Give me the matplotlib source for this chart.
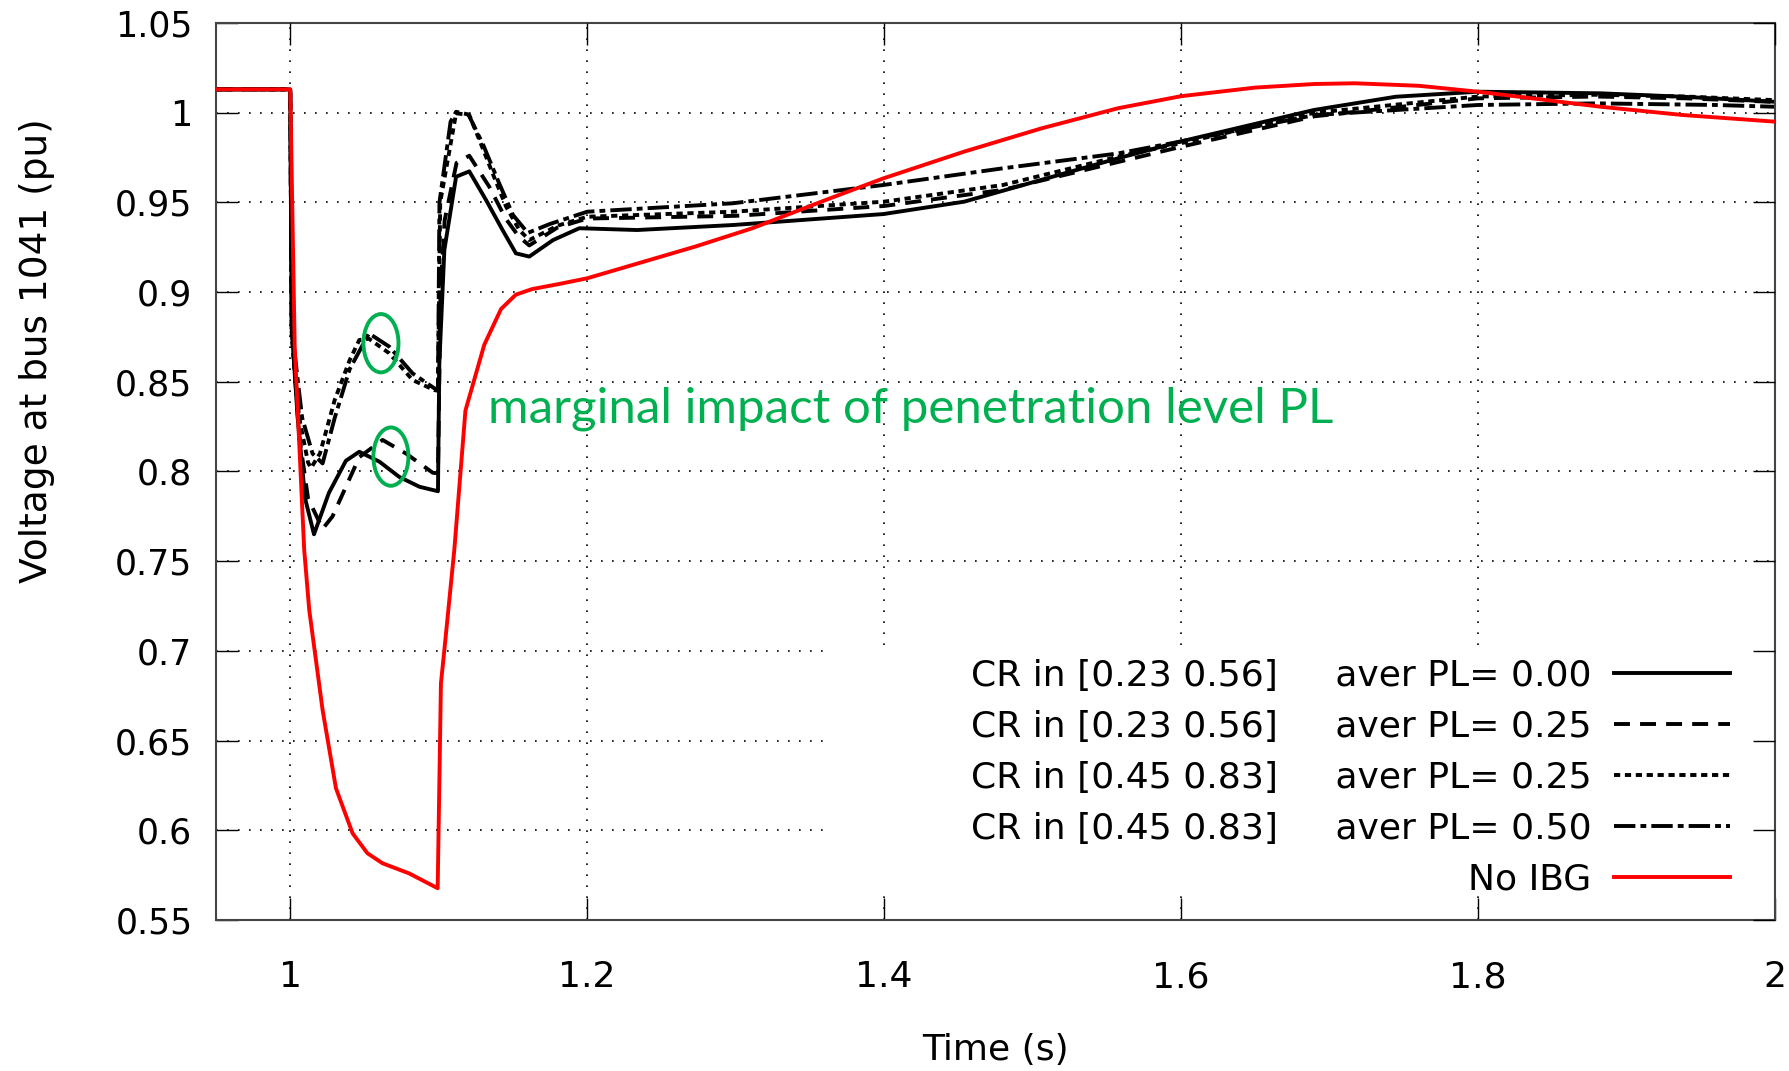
import numpy as np
import matplotlib.pyplot as plt
from matplotlib.patches import Ellipse, Rectangle

# Voltage at bus 1041 (pu) against time (s).
# CR in [0.23 0.56], aver PL = 0.00 (solid)
t_a = [0.95, 1.0, 1.001, 1.005, 1.01, 1.016, 1.026, 1.0375, 1.0465, 1.06, 1.0734, 1.087,
       1.0995, 1.1004, 1.1038, 1.1117, 1.1206, 1.1319, 1.143, 1.152, 1.161, 1.177, 1.1947,
       1.2336, 1.2984, 1.3995, 1.4539, 1.5057, 1.5576, 1.599, 1.6894, 1.7446, 1.8, 1.8827,
       1.9379, 2.0]
v_a = [1.013, 1.013, 0.88, 0.83, 0.785, 0.765, 0.788, 0.806, 0.811, 0.8055, 0.797, 0.7915,
       0.789, 0.86, 0.9235, 0.9643, 0.9673, 0.9513, 0.9346, 0.9216, 0.9198, 0.929, 0.9356,
       0.9346, 0.9374, 0.9435, 0.9504, 0.9625, 0.9746, 0.9838, 1.0015, 1.0089, 1.0117, 1.0108,
       1.0089, 1.0061]

# CR in [0.23 0.56], aver PL = 0.25 (dashed)
t_b = [0.95, 1.0, 1.001, 1.006, 1.012, 1.0218, 1.0285, 1.0375, 1.0465, 1.0622, 1.078, 1.096,
       1.0995, 1.1012, 1.104, 1.112, 1.1206, 1.134, 1.145, 1.154, 1.161, 1.18, 1.2, 1.3, 1.4,
       1.48, 1.56, 1.6, 1.69, 1.8, 1.88, 1.94, 2.0]
v_b = [1.013, 1.013, 0.88, 0.82, 0.785, 0.768, 0.775, 0.7915, 0.808, 0.8176, 0.810, 0.7993,
       0.799, 0.90, 0.94, 0.972, 0.976, 0.9588, 0.9411, 0.9309, 0.926, 0.936, 0.941, 0.9425,
       0.948, 0.957, 0.973, 0.981, 0.998, 1.008, 1.009, 1.008, 1.006]

# CR in [0.45 0.83], aver PL = 0.25 (dotted)
t_c = [0.95, 1.0, 1.001, 1.006, 1.012, 1.014, 1.02, 1.03, 1.04, 1.0465, 1.053, 1.0667, 1.0824,
       1.097, 1.0995, 1.101, 1.1117, 1.1206, 1.1274, 1.1363, 1.1454, 1.1543, 1.161, 1.18, 1.2,
       1.298, 1.4, 1.48, 1.5576, 1.6, 1.69, 1.8, 1.88, 1.94, 2.0]
v_c = [1.013, 1.013, 0.875, 0.83, 0.805, 0.802, 0.81, 0.84, 0.862, 0.8733, 0.874, 0.8659, 0.851,
       0.8454, 0.845, 0.95, 0.9997, 0.9987, 0.9848, 0.9662, 0.9476, 0.9346, 0.929, 0.937, 0.942,
       0.9448, 0.9504, 0.9597, 0.9755, 0.983, 1.0, 1.009, 1.01, 1.009, 1.007]

# CR in [0.45 0.83], aver PL = 0.50 (dash-dot)
t_d = [0.95, 1.0, 1.001, 1.008, 1.015, 1.0218, 1.03, 1.04, 1.053, 1.0667, 1.0824, 1.097, 1.0995,
       1.1005, 1.108, 1.1117, 1.12, 1.13, 1.14, 1.15, 1.16, 1.175, 1.2, 1.298, 1.3995, 1.48,
       1.5576, 1.6, 1.69, 1.8, 1.88, 1.96, 2.0]
v_d = [1.013, 1.013, 0.88, 0.83, 0.81, 0.8045, 0.83, 0.857, 0.877, 0.8696, 0.8547, 0.8464, 0.846,
       0.95, 0.995, 1.0005, 0.999, 0.982, 0.962, 0.943, 0.933, 0.938, 0.9448, 0.9495, 0.9597,
       0.969, 0.9773, 0.984, 0.9987, 1.0043, 1.0052, 1.0043, 1.0033]

# No IBG (red)
t_r = [0.95, 1.0, 1.003, 1.0094, 1.0128, 1.0218, 1.0308, 1.042, 1.052, 1.0622, 1.080, 1.0993,
       1.1015, 1.1038, 1.1105, 1.118, 1.1307, 1.142, 1.152, 1.163, 1.181, 1.2, 1.2725, 1.3113,
       1.3605, 1.3995, 1.4539, 1.5057, 1.5576, 1.6, 1.65, 1.69, 1.717, 1.76, 1.8, 1.8827, 1.938,
       2.0]
v_r = [1.013, 1.013, 0.87, 0.7563, 0.7228, 0.667, 0.6234, 0.5983, 0.5872, 0.5816, 0.576, 0.5677,
       0.682, 0.7005, 0.7563, 0.834, 0.8707, 0.8906, 0.8986, 0.9017, 0.9045, 0.9077, 0.9253,
       0.9356, 0.9513, 0.9634, 0.9783, 0.9912, 1.0025, 1.0092, 1.0140, 1.0160, 1.0164, 1.0150,
       1.0117, 1.0033, 0.9987, 0.995]

labels = ["CR in [0.23 0.56]     aver PL= 0.00",
          "CR in [0.23 0.56]     aver PL= 0.25",
          "CR in [0.45 0.83]     aver PL= 0.25",
          "CR in [0.45 0.83]     aver PL= 0.50",
          "No IBG"]

xticks = [1, 1.2, 1.4, 1.6, 1.8, 2]
xticklabels = ["1", "1.2", "1.4", "1.6", "1.8", "2"]
yticks = [0.55, 0.6, 0.65, 0.7, 0.75, 0.8, 0.85, 0.9, 0.95, 1.0, 1.05]
yticklabels = ["0.55", "0.6", "0.65", "0.7", "0.75", "0.8", "0.85", "0.9", "0.95", "1", "1.05"]

# circled spots (centre x, centre y)
marks = [(1.0611, 0.8715), (1.0678, 0.8083)]

green = "#00B050"
plt.rcParams['font.family'] = ['DejaVu Sans']

fig = plt.figure(figsize=(17.9, 10.71), dpi=100)
pos = [0.12067, 0.14099, 0.87095, 0.83754]
ax = fig.add_axes(pos)

lw = 2.8
ax.plot(t_a, v_a, color='black', lw=lw, ls='-', label=labels[0], zorder=2)
ax.plot(t_b, v_b, color='black', lw=lw, ls=(0, (4.1, 2.6)), label=labels[1], zorder=2)
ax.plot(t_c, v_c, color='black', lw=lw, ls=(0, (1.6, 1.2)), label=labels[2], zorder=2)
ax.plot(t_d, v_d, color='black', lw=lw, ls=(0, (5.5, 1.3, 1.5, 1.3)), label=labels[3], zorder=2)
ax.plot(t_r, v_r, color='red', lw=lw, ls='-', label=labels[4], zorder=3)

for cx, cy in marks:
    ax.add_patch(Ellipse((cx, cy), 0.0236, 0.0325, fill=False, edgecolor=green, lw=2.8, zorder=4))

ax.text(1.133, 0.835, "marginal impact of penetration level PL", color=green,
        fontsize=35.5, family=['Lato', 'DejaVu Sans'], va='center', ha='left')

# key area hides the grid like the original
ax.add_patch(Rectangle((1.362, 0.565), 0.64, 0.138, facecolor='white', edgecolor='none', zorder=1))

ax.set_xlim(0.95, 2.0)
ax.set_ylim(0.55, 1.05)
ax.set_xticks(xticks)
ax.set_xticklabels(xticklabels)
ax.set_yticks(yticks)
ax.set_yticklabels(yticklabels)
ax.set_axisbelow(True)
ax.grid(True, color='black', lw=1.2, ls=(0, (1, 5.6)))
ax.tick_params(axis='both', direction='in', length=15.6, width=1.0, colors='black')
ax.tick_params(axis='y', labelsize=25, pad=17)
ax.tick_params(axis='x', labelsize=26, pad=29)
for s in ax.spines.values():
    s.set_color('#444444')
    s.set_linewidth(1.5)

ax.set_xlabel("Time (s)", fontsize=26)
ax.set_ylabel("Voltage at bus 1041 (pu)", fontsize=27)
ax.xaxis.set_label_coords(0.5, -0.126)
ax.yaxis.set_label_coords(-0.103, 0.635)

# mirror ticks on top and right, drawn above the key area
ov = fig.add_axes(pos, frameon=False)
ov.set_xlim(0.95, 2.0)
ov.set_ylim(0.55, 1.05)
ov.set_xticks(xticks)
ov.set_yticks(yticks)
ov.tick_params(left=False, bottom=False, top=True, right=True, labelleft=False,
               labelbottom=False, direction='in', length=15.6, width=1.0)
ov.patch.set_visible(False)

ax.legend(loc='lower right', bbox_to_anchor=(0.9711, 0.026), frameon=False, fontsize=26,
          markerfirst=False, handlelength=3.2, handletextpad=0.64, labelspacing=0.47,
          borderpad=0, borderaxespad=0)

fig.savefig("out.png", dpi=100)
